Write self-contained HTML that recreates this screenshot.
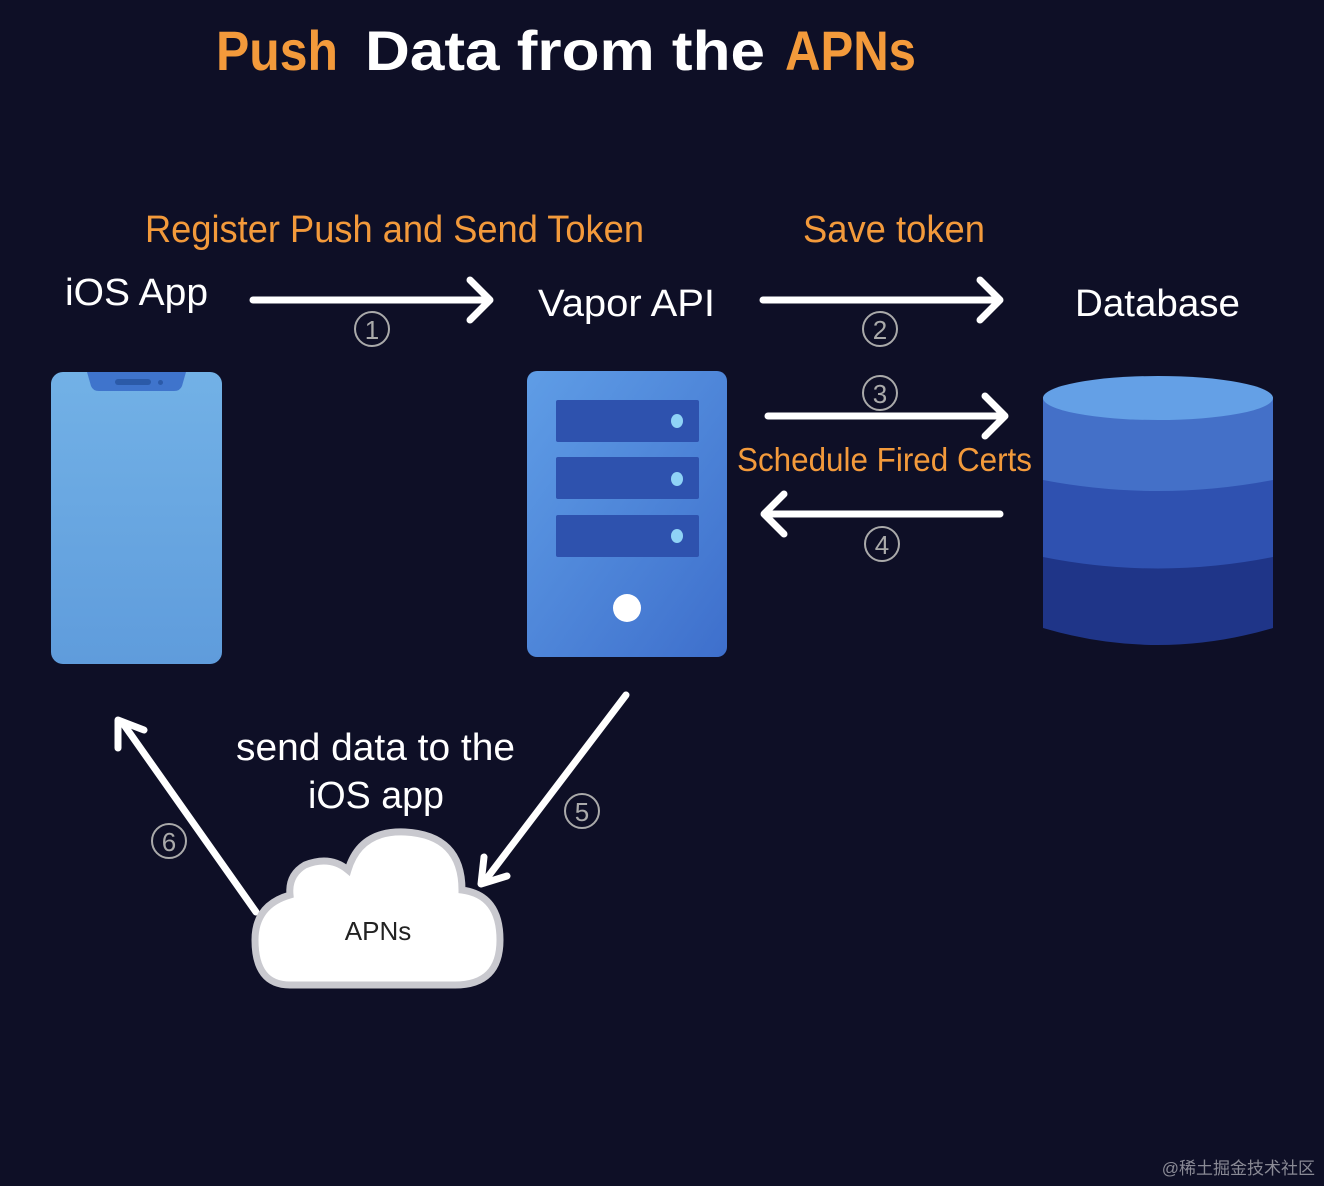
<!DOCTYPE html>
<html><head><meta charset="utf-8"><style>
html,body{margin:0;padding:0;background:#0e0f26;}
svg{display:block}
text{font-family:"Liberation Sans","DejaVu Sans",sans-serif;}
</style></head><body>
<svg width="1324" height="1186" viewBox="0 0 1324 1186" xmlns="http://www.w3.org/2000/svg">
<defs>
<linearGradient id="ph" x1="0" y1="0" x2="0" y2="1"><stop offset="0" stop-color="#72b1e6"/><stop offset="1" stop-color="#5f9cdc"/></linearGradient>
<linearGradient id="sv" x1="0" y1="0" x2="1" y2="1"><stop offset="0" stop-color="#5f9de6"/><stop offset="1" stop-color="#3e6fcc"/></linearGradient>
</defs>
<rect width="1324" height="1186" fill="#0e0f26"/>
<text x="216" y="70" font-size="56" font-weight="bold" fill="#f39a3b" textLength="122" lengthAdjust="spacingAndGlyphs">Push</text>
<text x="365" y="70" font-size="56" font-weight="bold" fill="#ffffff" textLength="400" lengthAdjust="spacingAndGlyphs">Data from the</text>
<text x="785" y="70" font-size="56" font-weight="bold" fill="#f39a3b" textLength="131" lengthAdjust="spacingAndGlyphs">APNs</text>
<text x="145" y="242" font-size="38" fill="#f39a3b" textLength="499" lengthAdjust="spacingAndGlyphs">Register Push and Send Token</text>
<text x="803" y="242" font-size="38" fill="#f39a3b" textLength="182" lengthAdjust="spacingAndGlyphs">Save token</text>
<text x="65" y="305" font-size="38" fill="#fff" textLength="143" lengthAdjust="spacingAndGlyphs">iOS App</text>
<text x="538" y="316" font-size="38" fill="#fff" textLength="177" lengthAdjust="spacingAndGlyphs">Vapor API</text>
<text x="1075" y="316" font-size="38" fill="#fff" textLength="165" lengthAdjust="spacingAndGlyphs">Database</text>
<text x="737" y="471" font-size="33" fill="#f39a3b" textLength="295" lengthAdjust="spacingAndGlyphs">Schedule Fired Certs</text>
<text x="236" y="760" font-size="38" fill="#fff" textLength="279" lengthAdjust="spacingAndGlyphs">send data to the</text>
<text x="308" y="808" font-size="38" fill="#fff" textLength="136" lengthAdjust="spacingAndGlyphs">iOS app</text>
<g fill="none" stroke="#aaa" stroke-width="2">
<circle cx="372" cy="329" r="17"/><circle cx="880" cy="329" r="17"/><circle cx="880" cy="393" r="17"/><circle cx="882" cy="544" r="17"/><circle cx="582" cy="811" r="17"/><circle cx="169" cy="841" r="17"/>
</g>
<g fill="#aaa" font-size="26" text-anchor="middle">
<text x="372" y="339">1</text><text x="880" y="339">2</text><text x="880" y="403">3</text><text x="882" y="554">4</text><text x="582" y="821">5</text><text x="169" y="851">6</text>
</g>
<g stroke="#fff" stroke-width="7" fill="none" stroke-linecap="round" stroke-linejoin="round">
<line x1="253" y1="300" x2="488" y2="300"/><path d="M470,280 L490,300 L470,320"/>
<line x1="763" y1="300" x2="998" y2="300"/><path d="M980,280 L1000,300 L980,320"/>
<line x1="768" y1="416" x2="1003" y2="416"/><path d="M985,396 L1005,416 L985,436"/>
<line x1="1000" y1="514" x2="766" y2="514"/><path d="M784,494 L764,514 L784,534"/>
<line x1="626" y1="695" x2="484" y2="882"/><path d="M484,857 L481,884 L507,876"/>
<line x1="256" y1="912" x2="122" y2="722"/><path d="M118,748 L118,720 L144,730"/>
</g>
<rect x="51" y="372" width="171" height="292" rx="12" fill="url(#ph)"/>
<path d="M87,372 L186,372 L182,386 Q180,391 174,391 L99,391 Q93,391 91,386 Z" fill="#3f74cc"/>
<rect x="115" y="379" width="36" height="6" rx="3" fill="#2b5aa8"/>
<rect x="158" y="380" width="5" height="5" rx="2.5" fill="#2b5aa8"/>
<rect x="527" y="371" width="200" height="286" rx="10" fill="url(#sv)"/>
<rect x="556" y="400" width="143" height="42" rx="2" fill="#2e52ae"/>
<rect x="556" y="457" width="143" height="42" rx="2" fill="#2e52ae"/>
<rect x="556" y="515" width="143" height="42" rx="2" fill="#2e52ae"/>
<ellipse cx="677" cy="421" rx="6" ry="7" fill="#8fd3f6"/>
<ellipse cx="677" cy="479" rx="6" ry="7" fill="#8fd3f6"/>
<ellipse cx="677" cy="536" rx="6" ry="7" fill="#8fd3f6"/>
<ellipse cx="627" cy="608" rx="14" ry="14" fill="#fff"/>
<path d="M1043,397 L1043,628 Q1158,662 1273,628 L1273,397 Z" fill="#1f3588"/>
<path d="M1043,397 L1043,557 Q1158,580 1273,557 L1273,397 Z" fill="#2f51b0"/>
<path d="M1043,397 L1043,480 Q1158,502 1273,480 L1273,397 Z" fill="#4470c8"/>
<ellipse cx="1158" cy="398" rx="115" ry="22" fill="#64a0e6"/>
<path d="M290,985 L455,985 Q500,985 500,940 Q500,895 462,890 Q462,835 405,832 Q360,830 348,870 Q330,855 305,865 Q288,875 290,895 Q255,905 255,940 Q255,985 290,985 Z" fill="#fff" stroke="#c9c9cf" stroke-width="7"/>
<text x="378" y="940" font-size="26" fill="#222" text-anchor="middle">APNs</text>
<text x="1315" y="1174" font-size="17" fill="#8a8a95" text-anchor="end" font-family="Liberation Serif, Noto Serif CJK SC, serif">@稀土掘金技术社区</text>
</svg>
</body></html>
